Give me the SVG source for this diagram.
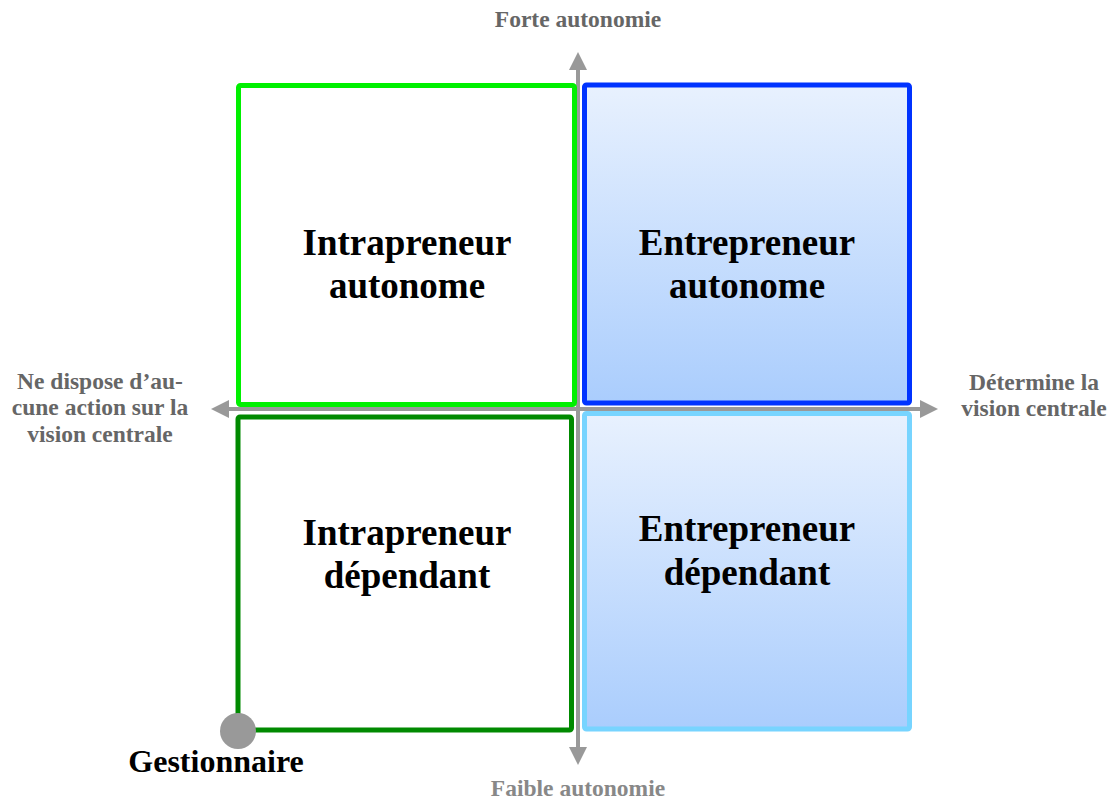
<svg xmlns="http://www.w3.org/2000/svg" width="1118" height="800" viewBox="0 0 1118 800">
  <defs>
    <linearGradient id="blueFill" x1="0" y1="0" x2="0" y2="1">
      <stop offset="0" stop-color="#e8f1fe"/>
      <stop offset="1" stop-color="#aacdfd"/>
    </linearGradient>
    <marker id="arrow" viewBox="0 0 18 18" markerWidth="18" markerHeight="18" markerUnits="userSpaceOnUse" refX="0" refY="9" orient="auto">
      <path d="M0,0 L18,9 L0,18 Z" fill="#999999"/>
    </marker>
    <style>
      .axis { stroke: #999999; stroke-width: 4; fill: none; }
      .box { stroke-width: 5; }
      .main { font-family: "Liberation Serif", "Times New Roman", serif; font-weight: bold; font-size: 37px; fill: #000000; text-anchor: middle; }
      .lab { font-family: "Liberation Serif", "Times New Roman", serif; font-weight: bold; font-size: 23.5px; fill: #666666; text-anchor: middle; }
      .lab2 { fill: #888888; }
      .gest { font-family: "Liberation Serif", "Times New Roman", serif; font-weight: bold; font-size: 32px; fill: #000000; text-anchor: middle; }
    </style>
  </defs>
  <rect x="0" y="0" width="1118" height="800" fill="#ffffff"/>

  <g id="connectors">
    <line class="axis" x1="578" y1="747" x2="578" y2="70" marker-end="url(#arrow)"/>
    <line class="axis" x1="578" y1="70" x2="578" y2="747" marker-end="url(#arrow)"/>
    <line class="axis" x1="229" y1="409" x2="920" y2="409" marker-end="url(#arrow)"/>
    <line class="axis" x1="920" y1="409" x2="229" y2="409" marker-end="url(#arrow)"/>
  </g>

  <g id="intrapreneur-autonome">
    <rect class="box" x="238.5" y="85.5" width="336" height="319" rx="2" fill="#ffffff" stroke="#00f000"/>
    <text class="main" x="407" y="255">Intrapreneur</text>
    <text class="main" x="407" y="298">autonome</text>
  </g>

  <g id="entrepreneur-autonome">
    <rect class="box" x="584.5" y="85" width="325" height="318" rx="2" fill="url(#blueFill)" stroke="#0033ff"/>
    <text class="main" x="747" y="255">Entrepreneur</text>
    <text class="main" x="747" y="298">autonome</text>
  </g>

  <g id="intrapreneur-dependant">
    <rect class="box" x="238" y="417" width="333.5" height="313" rx="2" fill="#ffffff" stroke="#008a00"/>
    <text class="main" x="407" y="545">Intrapreneur</text>
    <text class="main" x="407" y="588">dépendant</text>
  </g>

  <g id="entrepreneur-dependant">
    <rect class="box" x="584.5" y="413.5" width="325" height="315.5" rx="2" fill="url(#blueFill)" stroke="#77d4ff"/>
    <text class="main" x="747" y="541">Entrepreneur</text>
    <text class="main" x="747" y="585">dépendant</text>
  </g>

  <g id="gestionnaire">
    <circle cx="238" cy="731" r="18" fill="#999999"/>
    <text class="gest" x="216" y="772">Gestionnaire</text>
  </g>

  <g id="axis-labels">
    <text class="lab" x="578" y="27">Forte autonomie</text>
    <text class="lab lab2" x="578" y="796">Faible autonomie</text>
    <text class="lab" x="100" y="389">Ne dispose d’au-</text>
    <text class="lab" x="100" y="415">cune action sur la</text>
    <text class="lab" x="100" y="442">vision centrale</text>
    <text class="lab" x="1034" y="390">Détermine la</text>
    <text class="lab" x="1034" y="416">vision centrale</text>
  </g>
</svg>
